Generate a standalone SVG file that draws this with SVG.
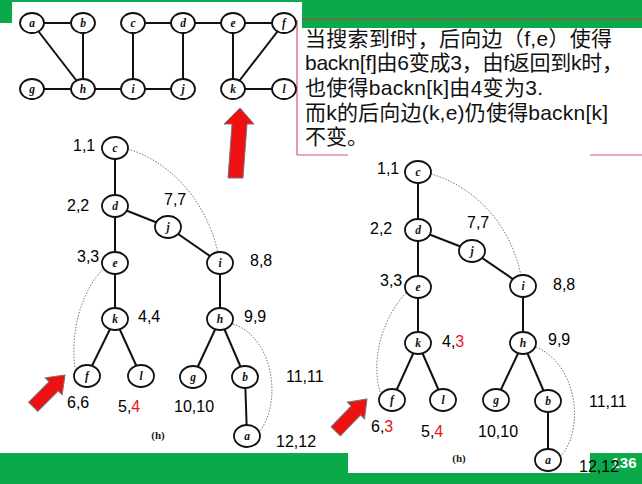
<svg xmlns="http://www.w3.org/2000/svg" width="642" height="484" viewBox="0 0 642 484">
<style>
.bg{fill:#ffffff}
.green{fill:#0aaa4a}
.nd ellipse{fill:#ffffff;stroke:#111;stroke-width:1.8}
.nd text{font-family:"Liberation Serif",serif;font-style:italic;font-weight:bold;font-size:11.5px;fill:#111;text-anchor:middle}
.edge line{stroke:#111;stroke-width:2}
.dot{fill:none;stroke:#777;stroke-width:1;stroke-dasharray:1.5 1.5}
.num{font-family:"Liberation Sans",Arial,sans-serif;font-size:16px;fill:#000}
.cap{font-family:"Liberation Serif",serif;font-weight:bold;font-size:11px;fill:#222;text-anchor:middle}
.txt{font-family:"Liberation Sans","Noto Sans CJK SC",sans-serif;font-size:21px;fill:#111}
.arrow{fill:#ee1111;stroke:#777;stroke-width:1}
.box{stroke:#dd5566;stroke-width:1.2;fill:none}
</style>
<rect class="bg" x="0" y="0" width="642" height="484"/>
<!-- top green bar -->
<rect class="green" x="0" y="0" width="12" height="23"/>
<rect class="green" x="12" y="0" width="290" height="2"/>
<rect class="green" x="302" y="0" width="340" height="28"/>
<line x1="302" y1="19.5" x2="642" y2="19.5" stroke="#8a5a44" stroke-width="1.5"/>
<!-- bottom green bar -->
<rect class="green" x="0" y="453" width="642" height="31"/>
<rect class="bg" x="348" y="453" width="242" height="20"/>
<text x="624" y="468" font-family="Liberation Sans,Arial,sans-serif" font-size="15" font-weight="bold" fill="#ffffff" text-anchor="middle">136</text>

<!-- text box -->
<g id="textbox">
<line class="box" x1="297" y1="20" x2="297" y2="155"/>
<line class="box" x1="297" y1="155" x2="348" y2="155"/>
<line class="box" x1="590" y1="155" x2="642" y2="155"/>
<text class="txt" x="305" y="46" textLength="307" lengthAdjust="spacing">当搜索到f时，后向边（f,e）使得</text>
<text class="txt" x="305" y="70" textLength="318" lengthAdjust="spacing">backn[f]由6变成3，由f返回到k时，</text>
<text class="txt" x="305" y="95" textLength="238" lengthAdjust="spacing">也使得backn[k]由4变为3.</text>
<text class="txt" x="305" y="120" textLength="303" lengthAdjust="spacing">而k的后向边(k,e)仍使得backn[k]</text>
<text class="txt" x="305" y="144">不变。</text>
</g>

<!-- top graph -->
<g id="graph-edges" class="edge">
<line x1="32" y1="23" x2="83" y2="23"/>
<line x1="133" y1="23" x2="183" y2="23"/>
<line x1="183" y1="23" x2="233" y2="23"/>
<line x1="233" y1="23" x2="284" y2="23"/>
<line x1="32" y1="23" x2="83" y2="89"/>
<line x1="83" y1="23" x2="83" y2="89"/>
<line x1="133" y1="23" x2="133" y2="89"/>
<line x1="183" y1="23" x2="183" y2="89"/>
<line x1="233" y1="23" x2="233" y2="89"/>
<line x1="284" y1="23" x2="233" y2="89"/>
<line x1="32" y1="89" x2="83" y2="89"/>
<line x1="83" y1="89" x2="133" y2="89"/>
<line x1="133" y1="89" x2="183" y2="89"/>
<line x1="233" y1="89" x2="284" y2="89"/>
</g>
<g id="g-a" class="nd"><ellipse cx="32" cy="23" rx="12" ry="10"/><text x="32" y="26.5">a</text></g>
<g id="g-b" class="nd"><ellipse cx="83" cy="23" rx="12" ry="10"/><text x="83" y="26.5">b</text></g>
<g id="g-c" class="nd"><ellipse cx="133" cy="23" rx="12" ry="10"/><text x="133" y="26.5">c</text></g>
<g id="g-d" class="nd"><ellipse cx="183" cy="23" rx="12" ry="10"/><text x="183" y="26.5">d</text></g>
<g id="g-e" class="nd"><ellipse cx="233" cy="23" rx="12" ry="10"/><text x="233" y="26.5">e</text></g>
<g id="g-f" class="nd"><ellipse cx="284" cy="23" rx="12" ry="10"/><text x="284" y="26.5">f</text></g>
<g id="g-g" class="nd"><ellipse cx="32" cy="89" rx="12" ry="10"/><text x="32" y="92.5">g</text></g>
<g id="g-h" class="nd"><ellipse cx="83" cy="89" rx="12" ry="10"/><text x="83" y="92.5">h</text></g>
<g id="g-i" class="nd"><ellipse cx="133" cy="89" rx="12" ry="10"/><text x="133" y="92.5">i</text></g>
<g id="g-j" class="nd"><ellipse cx="183" cy="89" rx="12" ry="10"/><text x="183" y="92.5">j</text></g>
<g id="g-k" class="nd"><ellipse cx="233" cy="89" rx="12" ry="10"/><text x="233" y="92.5">k</text></g>
<g id="g-l" class="nd"><ellipse cx="284" cy="89" rx="12" ry="10"/><text x="284" y="92.5">l</text></g>

<!-- top red arrow -->
<polygon id="arrow-top" class="arrow" points="240,108 254,124 247,124 243,178 228,178 232,124 224,124"/>

<!-- left tree -->
<g id="t1-edges" class="edge">
<line x1="115" y1="148" x2="115" y2="206"/>
<line x1="115" y1="206" x2="115" y2="263"/>
<line x1="115" y1="263" x2="115" y2="319"/>
<line x1="115" y1="206" x2="168" y2="227"/>
<line x1="168" y1="227" x2="220" y2="263"/>
<line x1="220" y1="263" x2="220" y2="319"/>
<line x1="115" y1="319" x2="87" y2="376"/>
<line x1="115" y1="319" x2="141" y2="376"/>
<line x1="220" y1="319" x2="193" y2="377"/>
<line x1="220" y1="319" x2="245" y2="377"/>
<line x1="245" y1="377" x2="247" y2="436"/>
</g>
<g id="t1-back">
<path class="dot" d="M128,149 C165,160 205,195 218,253"/>
<path class="dot" d="M104,268 C82,290 70,330 75,368"/>
<path class="dot" d="M233,324 C275,338 282,405 259,432"/>
</g>
<g id="t1-c" class="nd"><ellipse cx="115" cy="148" rx="13" ry="11"/><text x="115" y="152">c</text></g>
<g id="t1-d" class="nd"><ellipse cx="115" cy="206" rx="13" ry="11"/><text x="115" y="210">d</text></g>
<g id="t1-j" class="nd"><ellipse cx="168" cy="227" rx="13" ry="11"/><text x="168" y="231">j</text></g>
<g id="t1-e" class="nd"><ellipse cx="115" cy="263" rx="13" ry="11"/><text x="115" y="267">e</text></g>
<g id="t1-i" class="nd"><ellipse cx="220" cy="263" rx="13" ry="11"/><text x="220" y="267">i</text></g>
<g id="t1-k" class="nd"><ellipse cx="115" cy="319" rx="13" ry="11"/><text x="115" y="323">k</text></g>
<g id="t1-h" class="nd"><ellipse cx="220" cy="319" rx="13" ry="11"/><text x="220" y="323">h</text></g>
<g id="t1-f" class="nd"><ellipse cx="87" cy="376" rx="13" ry="11"/><text x="87" y="380">f</text></g>
<g id="t1-l" class="nd"><ellipse cx="141" cy="376" rx="13" ry="11"/><text x="141" y="380">l</text></g>
<g id="t1-g" class="nd"><ellipse cx="193" cy="377" rx="13" ry="11"/><text x="193" y="381">g</text></g>
<g id="t1-b" class="nd"><ellipse cx="245" cy="377" rx="13" ry="11"/><text x="245" y="381">b</text></g>
<g id="t1-a" class="nd"><ellipse cx="247" cy="436" rx="13" ry="11"/><text x="247" y="440">a</text></g>
<g id="t1-labels">
<text class="num" x="73" y="151">1,1</text>
<text class="num" x="67" y="211">2,2</text>
<text class="num" x="164" y="205">7,7</text>
<text class="num" x="77" y="262">3,3</text>
<text class="num" x="250" y="266">8,8</text>
<text class="num" x="138" y="322">4,4</text>
<text class="num" x="244" y="322">9,9</text>
<text class="num" x="67" y="408">6,6</text>
<text class="num" x="118" y="412">5,<tspan fill="#e8141c">4</tspan></text>
<text class="num" x="174" y="412">10,10</text>
<text class="num" x="286" y="382">11,11</text>
<text class="num" x="276" y="447">12,12</text>
<text class="cap" x="158" y="439">(h)</text>
</g>
<polygon id="arrow-left" class="arrow" transform="translate(65,375) rotate(-45)" points="0,0 -16,-12 -16,-6.5 -45,-6.5 -45,6.5 -16,6.5 -16,12"/>

<!-- right tree -->
<g id="t2-edges" class="edge">
<line x1="418" y1="172" x2="418" y2="230"/>
<line x1="418" y1="230" x2="418" y2="287"/>
<line x1="418" y1="287" x2="418" y2="343"/>
<line x1="418" y1="230" x2="472" y2="251"/>
<line x1="472" y1="251" x2="523" y2="286"/>
<line x1="523" y1="286" x2="523" y2="343"/>
<line x1="418" y1="343" x2="392" y2="400"/>
<line x1="418" y1="343" x2="443" y2="400"/>
<line x1="523" y1="343" x2="496" y2="400"/>
<line x1="523" y1="343" x2="548" y2="401"/>
<line x1="548" y1="401" x2="548" y2="460"/>
</g>
<g id="t2-back">
<path class="dot" d="M431,174 C470,185 510,220 521,276"/>
<path class="dot" d="M406,293 C385,315 370,355 380,392"/>
<path class="dot" d="M536,347 C578,365 585,430 560,457"/>
</g>
<g id="t2-c" class="nd"><ellipse cx="418" cy="172" rx="13" ry="11"/><text x="418" y="176">c</text></g>
<g id="t2-d" class="nd"><ellipse cx="418" cy="230" rx="13" ry="11"/><text x="418" y="234">d</text></g>
<g id="t2-j" class="nd"><ellipse cx="472" cy="251" rx="13" ry="11"/><text x="472" y="255">j</text></g>
<g id="t2-e" class="nd"><ellipse cx="418" cy="287" rx="13" ry="11"/><text x="418" y="291">e</text></g>
<g id="t2-i" class="nd"><ellipse cx="523" cy="286" rx="13" ry="11"/><text x="523" y="290">i</text></g>
<g id="t2-k" class="nd"><ellipse cx="418" cy="343" rx="13" ry="11"/><text x="418" y="347">k</text></g>
<g id="t2-h" class="nd"><ellipse cx="523" cy="343" rx="13" ry="11"/><text x="523" y="347">h</text></g>
<g id="t2-f" class="nd"><ellipse cx="392" cy="400" rx="13" ry="11"/><text x="392" y="404">f</text></g>
<g id="t2-l" class="nd"><ellipse cx="443" cy="400" rx="13" ry="11"/><text x="443" y="404">l</text></g>
<g id="t2-g" class="nd"><ellipse cx="496" cy="400" rx="13" ry="11"/><text x="496" y="404">g</text></g>
<g id="t2-b" class="nd"><ellipse cx="548" cy="401" rx="13" ry="11"/><text x="548" y="405">b</text></g>
<g id="t2-a" class="nd"><ellipse cx="548" cy="460" rx="13" ry="11"/><text x="548" y="464">a</text></g>
<g id="t2-labels">
<text class="num" x="377" y="174">1,1</text>
<text class="num" x="370" y="234">2,2</text>
<text class="num" x="467" y="228">7,7</text>
<text class="num" x="380" y="286">3,3</text>
<text class="num" x="553" y="290">8,8</text>
<text class="num" x="442" y="347">4,<tspan fill="#e8141c">3</tspan></text>
<text class="num" x="548" y="345">9,9</text>
<text class="num" x="371" y="432">6,<tspan fill="#e8141c">3</tspan></text>
<text class="num" x="421" y="437">5,<tspan fill="#e8141c">4</tspan></text>
<text class="num" x="478" y="437">10,10</text>
<text class="num" x="589" y="407">11,11</text>
<text class="num" x="579" y="472">12,12</text>
<text class="cap" x="459" y="462">(h)</text>
</g>
<polygon id="arrow-right" class="arrow" transform="translate(367,399) rotate(-46)" points="0,0 -16,-12 -16,-6.5 -45,-6.5 -45,6.5 -16,6.5 -16,12"/>
</svg>
